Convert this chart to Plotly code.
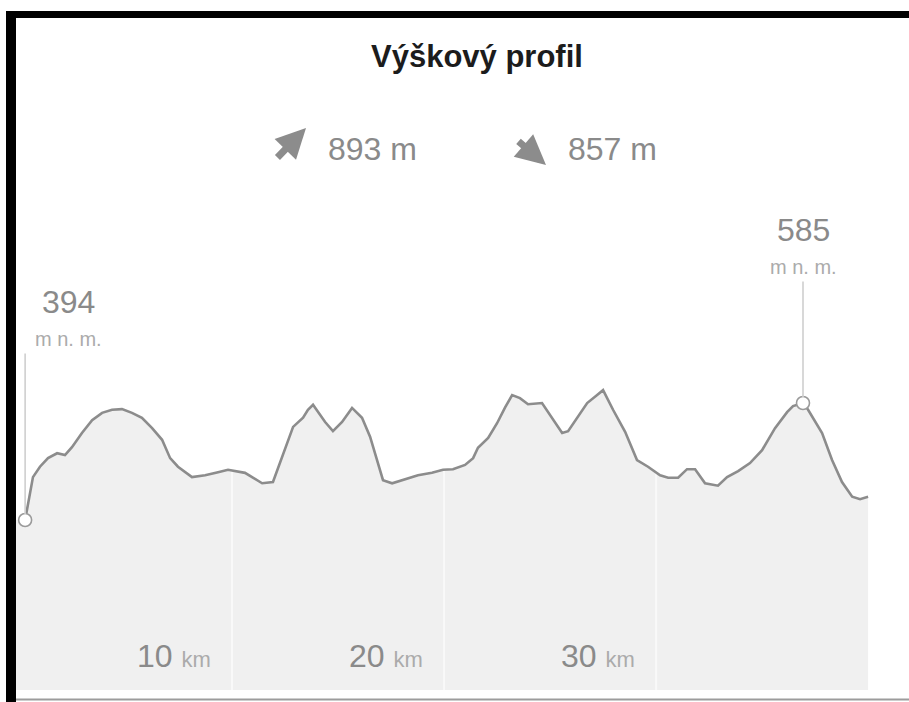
import numpy as np
import plotly.graph_objects as go

# ---------------- data ----------------
title_text = "Výškový profil"
ascent_m = 893
descent_m = 857

dist_km = [0.24, 0.38, 0.61, 0.94, 1.32, 1.75, 2.12, 2.45, 2.92, 3.40, 3.87, 4.34, 4.81, 5.28,
           5.75, 6.23, 6.70, 7.08, 7.45, 8.11, 8.73, 9.34, 9.81, 10.61, 10.94, 11.42, 11.93,
           12.17, 12.50, 12.88, 13.35, 13.58, 13.82, 14.06, 14.39, 14.76, 15.19, 15.66, 16.13,
           16.51, 16.84, 17.12, 17.55, 18.16, 18.77, 19.43, 19.95, 20.42, 20.99, 21.37, 21.60,
           22.08, 22.50, 22.88, 23.21, 23.58, 23.96, 24.62, 25.09, 25.57, 25.85, 26.27, 26.75,
           27.22, 27.50, 27.97, 28.54, 29.10, 29.62, 30.19, 30.57, 31.04, 31.46, 31.84, 32.31,
           32.92, 33.35, 33.87, 34.43, 35.00, 35.61, 36.18, 36.46, 36.93, 37.17, 37.83, 38.30,
           38.77, 39.25, 39.62, 40.00]
elev_m = [394, 422, 464, 481, 495, 503, 500, 513, 536, 557, 569, 574, 575, 569,
          561, 544, 525, 495, 481, 464, 467, 472, 476, 471, 464, 454, 456,
          479, 513, 546, 561, 574, 582, 570, 554, 539, 554, 577, 561,
          530, 492, 459, 454, 461, 467, 471, 476, 477, 484, 495, 512,
          528, 552, 578, 598, 593, 583, 585, 561, 536, 539, 561, 585,
          598, 606, 574, 538, 492, 481, 467, 463, 463, 477, 477, 454,
          450, 464, 474, 487, 508, 544, 570, 580, 585, 574, 536, 492,
          456, 432, 428, 432]

tick_km = [10, 20, 30]
tick_text = ["10", "20", "30"]
dist_unit = "km"

label_km = [0.24, 36.93]
label_elev = [394, 585]
elev_unit = "m n. m."

# ---------------- layout geometry (pixels) ----------------
W, H = 909, 702
L, R, T, B = 16, 870, 180, 690
PW, PH = R - L, B - T
x_range = [-0.19, 40.09]
y_range = [116.5, 949.1]


def px(x):
    return (x - L) / PW


def py(y):
    return (B - y) / PH


GRAY_TXT = "#8a8a8a"
LIGHT_TXT = "#ababab"
FONT = "Liberation Sans, Arial, sans-serif"

fig = go.Figure()

# area fill
fig.add_trace(go.Scatter(
    x=[x_range[0]] + dist_km, y=[elev_m[0]] + elev_m,
    mode="lines", line=dict(width=0, color="#f0f0f0"),
    fill="tozeroy", fillcolor="#f0f0f0", hoverinfo="skip"))

# light grid lines under the curve
for t in tick_km:
    top = float(np.interp(t, dist_km, elev_m))
    fig.add_trace(go.Scatter(
        x=[t, t], y=[y_range[0], top], mode="lines",
        line=dict(color="#f9f9f9", width=2), hoverinfo="skip"))

# profile line
fig.add_trace(go.Scatter(
    x=dist_km, y=elev_m, mode="lines",
    line=dict(color="#8c8c8c", width=2.6), hoverinfo="skip"))

annotations = []
label_offset = [168, 123]
label_xshift = [43, 0]
for k, e, off, dx in zip(label_km, label_elev, label_offset, label_xshift):
    annotations.append(dict(
        x=k, y=e, xref="x", yref="y", text="", showarrow=True, arrowhead=0,
        ax=0, ay=-off, arrowwidth=1.6, arrowcolor="#cfcfcf", standoff=6))
    annotations.append(dict(
        x=k, y=e, xref="x", yref="y", text=elev_unit, showarrow=False,
        xanchor="center", yanchor="middle",
        xshift=dx, yshift=off + 13, font=dict(family=FONT, size=20, color=LIGHT_TXT)))
    annotations.append(dict(
        x=k, y=e, xref="x", yref="y", text=str(e), showarrow=False,
        xanchor="center", yanchor="middle",
        xshift=dx, yshift=off + 50, font=dict(family=FONT, size=32, color=GRAY_TXT)))

# markers
fig.add_trace(go.Scatter(
    x=label_km, y=label_elev, mode="markers", cliponaxis=False,
    marker=dict(size=13, color="white", line=dict(color="#9a9a9a", width=1.6)),
    hoverinfo="skip"))

# tick labels inside plot
for t, lab in zip(tick_km, tick_text):
    annotations.append(dict(
        x=t, y=0, xref="x", yref="paper", xanchor="right", yanchor="middle",
        xshift=-19, yshift=34, showarrow=False,
        text=f"{lab} <span style=\"font-size:22px;fill:{LIGHT_TXT}\">{dist_unit}</span>",
        font=dict(family=FONT, size=32, color=GRAY_TXT)))

# title
annotations.append(dict(
    x=px(477), y=py(57), xref="paper", yref="paper", showarrow=False,
    xanchor="center", yanchor="middle",
    text=f"<b>{title_text}</b>", font=dict(family=FONT, size=31, color="#1c1c1c")))

# ascent / descent
annotations.append(dict(
    x=px(326), y=py(149), xref="paper", yref="paper", xanchor="left", yanchor="middle",
    showarrow=False,
    text=f"{ascent_m} m", font=dict(family=FONT, size=32, color=GRAY_TXT)))
annotations.append(dict(
    x=px(566), y=py(149), xref="paper", yref="paper", xanchor="left", yanchor="middle",
    showarrow=False,
    text=f"{descent_m} m", font=dict(family=FONT, size=32, color=GRAY_TXT)))
annotations.append(dict(
    x=px(306), y=py(128), xref="paper", yref="paper", text="", showarrow=True,
    arrowhead=2, arrowsize=0.85, arrowwidth=7, arrowcolor="#8c8c8c", ax=-30, ay=31))
annotations.append(dict(
    x=px(546), y=py(165), xref="paper", yref="paper", text="", showarrow=True,
    arrowhead=2, arrowsize=0.85, arrowwidth=7, arrowcolor="#8c8c8c", ax=-29, ay=-25))

# frame (black left / top bars, gray bottom line)
shapes = [
    dict(type="rect", xref="paper", yref="paper", x0=px(6), x1=px(16), y0=py(702), y1=py(11),
         fillcolor="black", line=dict(width=0), layer="above"),
    dict(type="rect", xref="paper", yref="paper", x0=px(6), x1=px(909), y0=py(18), y1=py(11),
         fillcolor="black", line=dict(width=0), layer="above"),
    dict(type="line", xref="paper", yref="paper", x0=px(16), x1=px(909), y0=py(699.5), y1=py(699.5),
         line=dict(color="#9c9c9c", width=2), layer="above"),
]

fig.update_layout(
    width=W, height=H, autosize=False,
    margin=dict(l=L, r=W - R, t=T, b=H - B, pad=0),
    paper_bgcolor="white", plot_bgcolor="white",
    showlegend=False,
    xaxis=dict(range=x_range, showgrid=False, zeroline=False, showticklabels=False,
               showline=False, fixedrange=True),
    yaxis=dict(range=y_range, showgrid=False, zeroline=False, showticklabels=False,
               showline=False, fixedrange=True),
    annotations=annotations, shapes=shapes,
)

fig.write_html("out.html", config={"displayModeBar": False},
               post_script="document.body.style.margin='0';")
